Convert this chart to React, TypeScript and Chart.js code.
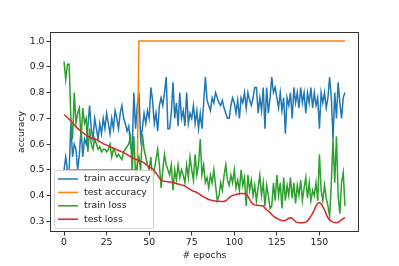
import React, { useEffect, useRef } from "react";
import { Chart, registerables } from "chart.js";

Chart.register(...registerables);

const trainAccuracy = [
  0.50, 0.55, 0.50, 0.50, 0.68, 0.55, 0.60, 0.58, 0.50, 0.56,
  0.66, 0.55, 0.62, 0.60, 0.67, 0.75, 0.66, 0.62, 0.70, 0.66,
  0.62, 0.68, 0.64, 0.70, 0.66, 0.72, 0.68, 0.64, 0.70, 0.66,
  0.73, 0.70, 0.66, 0.72, 0.75, 0.70, 0.68, 0.65, 0.67, 0.60,
  0.57, 0.80, 0.66, 0.75, 0.80, 0.62, 0.66, 0.72, 0.68, 0.73,
  0.70, 0.82, 0.77, 0.68, 0.72, 0.65, 0.75, 0.78, 0.75, 0.80,
  0.86, 0.66, 0.66, 0.72, 0.84, 0.70, 0.76, 0.67, 0.80, 0.70,
  0.73, 0.67, 0.80, 0.68, 0.72, 0.70, 0.75, 0.68, 0.73, 0.66,
  0.72, 0.66, 0.76, 0.86, 0.77, 0.75, 0.73, 0.78, 0.76, 0.80,
  0.78, 0.76, 0.75, 0.77, 0.74, 0.72, 0.70, 0.70, 0.75, 0.78,
  0.76, 0.72, 0.77, 0.70, 0.78, 0.76, 0.80, 0.74, 0.80, 0.77,
  0.75, 0.78, 0.82, 0.82, 0.72, 0.78, 0.73, 0.82, 0.66, 0.82,
  0.72, 0.78, 0.86, 0.80, 0.82, 0.78, 0.74, 0.80, 0.73, 0.78,
  0.64, 0.78, 0.75, 0.80, 0.70, 0.82, 0.76, 0.80, 0.74, 0.82,
  0.76, 0.80, 0.72, 0.80, 0.76, 0.82, 0.74, 0.80, 0.75, 0.78,
  0.66, 0.80, 0.76, 0.80, 0.74, 0.78, 0.86, 0.78, 0.62, 0.80,
  0.70, 0.84, 0.76, 0.70, 0.78, 0.80,
];

const testAccuracy = [
  0.5, 0.5, 0.5, 0.5, 0.5, 0.5, 0.5, 0.5, 0.5, 0.5,
  0.5, 0.5, 0.5, 0.5, 0.5, 0.5, 0.5, 0.5, 0.5, 0.5,
  0.5, 0.5, 0.5, 0.5, 0.5, 0.5, 0.5, 0.5, 0.5, 0.5,
  0.5, 0.5, 0.5, 0.5, 0.5, 0.5, 0.5, 0.5, 0.5, 0.5,
  0.5, 0.5, 0.5, 0.5, 1.0, 1.0, 1.0, 1.0, 1.0, 1.0,
  1.0, 1.0, 1.0, 1.0, 1.0, 1.0, 1.0, 1.0, 1.0, 1.0,
  1.0, 1.0, 1.0, 1.0, 1.0, 1.0, 1.0, 1.0, 1.0, 1.0,
  1.0, 1.0, 1.0, 1.0, 1.0, 1.0, 1.0, 1.0, 1.0, 1.0,
  1.0, 1.0, 1.0, 1.0, 1.0, 1.0, 1.0, 1.0, 1.0, 1.0,
  1.0, 1.0, 1.0, 1.0, 1.0, 1.0, 1.0, 1.0, 1.0, 1.0,
  1.0, 1.0, 1.0, 1.0, 1.0, 1.0, 1.0, 1.0, 1.0, 1.0,
  1.0, 1.0, 1.0, 1.0, 1.0, 1.0, 1.0, 1.0, 1.0, 1.0,
  1.0, 1.0, 1.0, 1.0, 1.0, 1.0, 1.0, 1.0, 1.0, 1.0,
  1.0, 1.0, 1.0, 1.0, 1.0, 1.0, 1.0, 1.0, 1.0, 1.0,
  1.0, 1.0, 1.0, 1.0, 1.0, 1.0, 1.0, 1.0, 1.0, 1.0,
  1.0, 1.0, 1.0, 1.0, 1.0, 1.0, 1.0, 1.0, 1.0, 1.0,
  1.0, 1.0, 1.0, 1.0, 1.0, 1.0,
];

const trainLoss = [
  0.92, 0.85, 0.91, 0.91, 0.70, 0.62, 0.80, 0.68, 0.72, 0.74,
  0.62, 0.74, 0.68, 0.70, 0.57, 0.66, 0.60, 0.58, 0.62, 0.60,
  0.58, 0.59, 0.57, 0.58, 0.58, 0.57, 0.58, 0.60, 0.55, 0.58,
  0.57, 0.55, 0.56, 0.55, 0.54, 0.57, 0.58, 0.59, 0.60, 0.63,
  0.50, 0.63, 0.48, 0.52, 0.55, 0.50, 0.64, 0.58, 0.55, 0.52,
  0.50, 0.55, 0.45, 0.50, 0.54, 0.58, 0.52, 0.43, 0.50, 0.56,
  0.52, 0.50, 0.48, 0.52, 0.42, 0.50, 0.46, 0.52, 0.47, 0.50,
  0.48, 0.45, 0.52, 0.47, 0.55, 0.50, 0.46, 0.56, 0.48, 0.52,
  0.62, 0.48, 0.52, 0.45, 0.47, 0.43, 0.48, 0.45, 0.50, 0.44,
  0.38, 0.40, 0.45, 0.42, 0.48, 0.52, 0.46, 0.44, 0.48, 0.45,
  0.50, 0.43, 0.46, 0.42, 0.50, 0.44, 0.47, 0.36, 0.48, 0.42,
  0.46, 0.40, 0.44, 0.38, 0.43, 0.48, 0.40, 0.45, 0.36, 0.44,
  0.40, 0.35, 0.36, 0.45, 0.38, 0.48, 0.40, 0.45, 0.35, 0.47,
  0.38, 0.44, 0.40, 0.47, 0.39, 0.45, 0.37, 0.44, 0.40, 0.46,
  0.38, 0.43, 0.47, 0.39, 0.45, 0.38, 0.42, 0.40, 0.45, 0.38,
  0.56, 0.42, 0.38, 0.44, 0.39, 0.36, 0.32, 0.45, 0.62, 0.45,
  0.63, 0.40, 0.33, 0.45, 0.49, 0.36,
];

const testLoss = [
  0.715, 0.71, 0.703, 0.697, 0.69, 0.683, 0.675, 0.668, 0.661, 0.655,
  0.65, 0.645, 0.64, 0.635, 0.63, 0.627, 0.624, 0.622, 0.62, 0.618,
  0.614, 0.61, 0.606, 0.602, 0.599, 0.596, 0.593, 0.59, 0.587, 0.584,
  0.581, 0.578, 0.575, 0.573, 0.57, 0.567, 0.563, 0.559, 0.555, 0.551,
  0.547, 0.544, 0.541, 0.539, 0.536, 0.533, 0.531, 0.527, 0.522, 0.517,
  0.512, 0.508, 0.504, 0.497, 0.488, 0.478, 0.468, 0.461, 0.458, 0.456,
  0.455, 0.454, 0.453, 0.452, 0.451, 0.449, 0.447, 0.445, 0.443, 0.441,
  0.44, 0.437, 0.433, 0.428, 0.424, 0.42, 0.417, 0.415, 0.412, 0.408,
  0.404, 0.399, 0.395, 0.391, 0.388, 0.385, 0.383, 0.381, 0.38, 0.379,
  0.378, 0.378, 0.377, 0.377, 0.377, 0.38, 0.386, 0.392, 0.397, 0.401,
  0.402, 0.404, 0.406, 0.407, 0.408, 0.408, 0.407, 0.406, 0.398, 0.385,
  0.374, 0.367, 0.364, 0.363, 0.362, 0.362, 0.361, 0.36, 0.352, 0.344,
  0.34, 0.334, 0.327, 0.32, 0.315, 0.312, 0.308, 0.305, 0.303, 0.302,
  0.303, 0.308, 0.312, 0.314, 0.312, 0.305, 0.299, 0.296, 0.295, 0.295,
  0.295, 0.296, 0.297, 0.302, 0.31, 0.32, 0.331, 0.345, 0.36, 0.37,
  0.373, 0.368, 0.357, 0.344, 0.328, 0.314, 0.305, 0.3, 0.297, 0.296,
  0.295, 0.297, 0.301, 0.306, 0.311, 0.316,
];

const seriesNames = ["train accuracy", "test accuracy", "train loss", "test loss"];
const seriesColors = ["#1f77b4", "#ff7f0e", "#2ca02c", "#d62728"];
const xTickValues = [0, 25, 50, 75, 100, 125, 150];
const yTickValues = [0.3, 0.4, 0.5, 0.6, 0.7, 0.8, 0.9, 1.0];

const FONT = "DejaVu Sans";
const FS = 9.3;

export default function App() {
  const ref = useRef<HTMLCanvasElement | null>(null);

  useEffect(() => {
    if (!ref.current) return;
    const all = [trainAccuracy, testAccuracy, trainLoss, testLoss];
    const toPoints = (arr: number[]) => arr.map((v, i) => ({ x: i, y: v }));

    const overlay = {
      id: "overlay",
      afterDatasetsDraw(chart: any) {
        const { ctx, chartArea: a } = chart;
        ctx.save();
        ctx.strokeStyle = "#333";
        ctx.lineWidth = 1;
        ctx.strokeRect(Math.round(a.left) + 0.5, Math.round(a.top) + 0.5, Math.round(a.right - a.left) - 1, Math.round(a.bottom - a.top) - 1);
        // legend
        const lx = 54, ly = 170, lw = 99, lh = 58;
        ctx.fillStyle = "rgba(255,255,255,0.85)";
        ctx.strokeStyle = "#d0d0d0";
        ctx.lineWidth = 1;
        ctx.beginPath();
        const r = 2;
        ctx.moveTo(lx + r + 0.5, ly + 0.5);
        ctx.arcTo(lx + lw + 0.5, ly + 0.5, lx + lw + 0.5, ly + lh + 0.5, r);
        ctx.arcTo(lx + lw + 0.5, ly + lh + 0.5, lx + 0.5, ly + lh + 0.5, r);
        ctx.arcTo(lx + 0.5, ly + lh + 0.5, lx + 0.5, ly + 0.5, r);
        ctx.arcTo(lx + 0.5, ly + 0.5, lx + lw + 0.5, ly + 0.5, r);
        ctx.closePath();
        ctx.fill();
        ctx.stroke();
        ctx.font = `${FS}px "${FONT}"`;
        ctx.textBaseline = "middle";
        ctx.textAlign = "left";
        seriesNames.forEach((name, i) => {
          const y = 179 + i * 13.4;
          ctx.strokeStyle = seriesColors[i];
          ctx.lineWidth = 1.5;
          ctx.beginPath();
          ctx.moveTo(58, y);
          ctx.lineTo(78, y);
          ctx.stroke();
          ctx.fillStyle = "#222";
          ctx.fillText(name, 84, y);
        });
        ctx.restore();
      },
    };

    const chart = new Chart(ref.current, {
      type: "line",
      data: {
        datasets: all.map((arr, i) => ({
          label: seriesNames[i],
          data: toPoints(arr),
          borderColor: seriesColors[i],
          backgroundColor: seriesColors[i],
          borderWidth: 1.5,
          pointRadius: 0,
          tension: 0,
          fill: false,
          order: 4 - i,
        })),
      },
      options: {
        responsive: false,
        animation: false,
        devicePixelRatio: 1,
        layout: { padding: { left: 0, right: 40, top: 32, bottom: 0 } },
        plugins: { legend: { display: false }, tooltip: { enabled: false } },
        scales: {
          x: {
            type: "linear",
            min: -8.25,
            max: 173.25,
            afterBuildTicks: (s: any) => {
              s.ticks = xTickValues.map((v) => ({ value: v }));
            },
            afterFit: (s: any) => {
              s.height = 34;
            },
            grid: { drawOnChartArea: false, drawTicks: true, tickLength: 3.5, color: "#333" },
            border: { display: false },
            ticks: { color: "#222", font: { family: FONT, size: FS }, padding: 2, maxRotation: 0, autoSkip: false },
            title: { display: true, text: "# epochs", color: "#222", font: { family: FONT, size: FS }, padding: { top: 0, bottom: 4.5 } },
          },
          y: {
            type: "linear",
            min: 0.2587,
            max: 1.0353,
            afterBuildTicks: (s: any) => {
              s.ticks = yTickValues.map((v) => ({ value: v }));
            },
            afterFit: (s: any) => {
              s.width = 50;
            },
            grid: { drawOnChartArea: false, drawTicks: true, tickLength: 3.5, color: "#333" },
            border: { display: false },
            ticks: { color: "#222", font: { family: FONT, size: FS }, padding: 2, callback: (v: any) => Number(v).toFixed(1) },
            title: { display: true, text: "accuracy", color: "#222", font: { family: FONT, size: FS }, padding: { top: 16.5, bottom: 0 } },
          },
        },
      },
      plugins: [overlay],
    } as any);
    return () => chart.destroy();
  }, []);

  return (
    <div style={{ position: "fixed", left: 0, top: 0, width: 399, height: 266, background: "#fff" }}>
      <canvas ref={ref} width={399} height={266} style={{ width: 399, height: 266, display: "block" }} />
    </div>
  );
}
